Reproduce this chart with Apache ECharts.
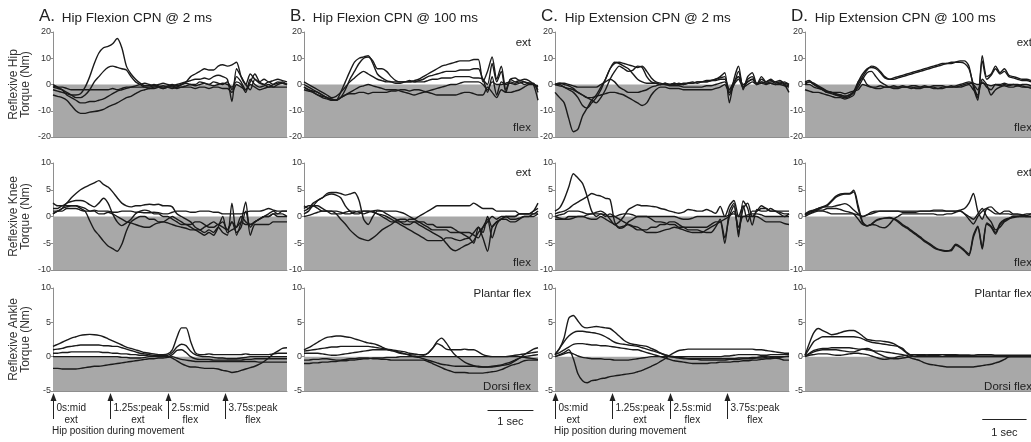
<!DOCTYPE html>
<html><head><meta charset="utf-8">
<script src="https://cdn.jsdelivr.net/npm/echarts@6/dist/echarts.min.js"></script>
<style>html,body{margin:0;padding:0;background:#fff}#c{width:1031px;height:442px}</style>
</head><body><div id="c"></div>
<script>
// ---------- DATA ----------
const timeSec = [0,0.1,0.2,0.3,0.4,0.5,0.6,0.7,0.8,0.9,1,1.1,1.2,1.3,1.4,1.5,1.6,1.7,1.8,1.9,2,2.1,2.2,2.3,2.4,2.5,2.6,2.7,2.8,2.9,3,3.1,3.2,3.3,3.4,3.5,3.6,3.7,3.8,3.9,4,4.1,4.2,4.3,4.4,4.5,4.6,4.7,4.8,4.9,5,5.1];

const panelLetters = ['A.', 'B.', 'C.', 'D.'];
const panelTitles = ['Hip Flexion CPN @ 2 ms', 'Hip Flexion CPN @ 100 ms', 'Hip Extension CPN @ 2 ms', 'Hip Extension CPN @ 100 ms'];
const rowNames = ['Reflexive Hip\nTorque (Nm)', 'Reflexive Knee\nTorque (Nm)', 'Reflexive Ankle\nTorque (Nm)'];
const yMins = [-20, -10, -5];
const yMaxs = [20, 10, 10];
const yIntervals = [10, 5, 5];
const dirLabels = [['ext', 'flex'], ['ext', 'flex'], ['Plantar flex', 'Dorsi flex']];
const arrowTimes = [0, 1.25, 2.5, 3.75];
const arrowLine1 = ['0s:mid', '1.25s:peak', '2.5s:mid', '3.75s:peak'];
const arrowLine2 = ['ext', 'ext', 'flex', 'flex'];
const arrowCaption = 'Hip position during movement';
const scaleBarStart = 4;
const scaleBarLength = 1;
const scaleBarLabel = '1 sec';
const xMax = 5.1;

// Hip torque, panel A
const hipA1 = [-2,-2.5,-3,-3.5,-4,-4,-3.5,-1,3,8,12,14,14.5,15.5,17.5,14,7,4,2,0.5,-0.5,-0.5,0,-0.5,-1,-0.5,0,-0.5,0,1,3,4,5,6,5.5,5.5,7,7.5,7,7.5,8.5,3,0,4,2,1,2,1,1.5,2,1.5,1];
const hipA2 = [-1,-1.5,-2,-3,-4,-5,-5,-4,-2,1,3,5,6.5,7,6.5,6,5.5,3,1,0,-1,-1,-0.5,-1,-1.5,-1,-0.5,0,0.5,1,1.5,2,2,2.5,2,3,3.5,3,2,-6.5,6,3,0,-2,2,0.5,0,1,0,0.5,1,0];
const hipA3 = [0,-1,-2,-4,-5,-6,-7,-7,-6.5,-6.5,-6,-5.5,-4.5,-3.5,-2.5,-2,-1.5,-1,-0.5,0,0.5,0,-0.5,0,0.5,0,-0.5,-1,-1,-0.5,0,0,1,0.5,0,1,0.5,0,1,-2,3,1,-2,1,4,1,0,-1,0,1,0.5,0];
const hipA4 = [-4,-4.5,-5,-6,-8,-10,-11,-11,-10.5,-10.3,-10,-9.5,-8.5,-7.8,-7,-6,-5,-4.5,-3.5,-2.5,-2,-1.5,-1.5,-1,-0.5,-1,-1.5,-1,0,0.5,0,-0.5,0,0.5,0,-0.5,0,0.5,0,-1,1,0,-3,2,0,-1,-0.5,0,-1,0,0.5,0];
const hipA5 = [-0.5,-1,-1,-1.5,-2,-2,-2,-2,-2,-2,-2,-2,-2,-1.5,-2,-1.5,-1,-1,-1,-1,-1,-1.5,-1,-1,-1.5,-1,-1,-1.5,-1,-1,-1,-1.5,-1,-1,-1.5,-1,-1,-1.5,-1.5,-3,0,-1,-2,0,-1,-2,-1.5,-1,-1,-1,-1,-1];
// Hip torque, panel B
const hipB1 = [0,-1,-2,-3,-4,-5,-5.5,-6,-3,1,5,8.5,10,10.5,11,8,4,2.5,1.5,1,0.5,0.5,1,1,1.5,2,3,4,5,6,7,7.5,8,8.5,9,9,9,9.5,9.5,1,5,10.5,2,7,-2,2,2.5,1.5,2,1.5,0,-6];
const hipB2 = [-1,-2,-2.5,-3,-4,-5,-5.5,-6,-5,-2,2,5,8,10,10.5,9,6,6,5,3,1.5,1,1,1,1,1.5,2,3,3.5,4,4.5,5,5,5,5.5,5.5,5.5,6,6,2,0,8,1,5,-3,2,1,1.5,1,0.5,0.5,-3];
const hipB3 = [1,0,-1,-2,-3,-4,-5,-4.5,-3,-1,1,2.5,4,5,4,3,2,1.5,1,1,1,1,1,1.5,1,1,1,1.5,2,2,2.5,2.5,2.5,3,3,3,3,2.5,2.5,2,-3,3,-4,1,0,0.5,0,0.5,1,0.5,0,-1];
const hipB4 = [-1,-2,-3,-4,-4.5,-5,-6,-6,-5,-4,-3.5,-3.5,-3,-3,-3.5,-3,-3,-3,-3,-2.5,-2.5,-2,-2,-2.5,-2,-2,-2.5,-3,-3.5,-4,-4,-4,-4,-4,-3.5,-3,-3,-3.5,-4,-4,-1,-3,-5,-2,-3,-3,-2.5,-2,-1,0,0,-2];
const hipB5 = [-2,-2.5,-3,-4,-5,-5.5,-6,-6,-5,-4,-3,-2,-1,-0.5,0,-0.5,-1,-1.5,-2,-2,-2,-2.5,-3,-3.5,-4,-3.5,-3,-2.5,-2,-1.5,-1,-0.5,0,0,0.5,1,1,1,1,0,-2,1,0,0,0.5,1,0.5,1,0,0.5,0,-0.5];
// Hip torque, panel C
const hipC1 = [-3,-5,-7,-13,-18,-17,-12,-9,-6,-4,-1,2,6,8.5,8,7,6,4,2,1,0.5,0.5,0.5,0,0.5,0,0.5,0,0.5,0.5,0.5,1,1,1.5,1.5,2,3,4.5,-7,2,7,-2,3,4.5,0,3,1,2,1,1.5,0,-3];
const hipC2 = [0,-0.5,-1,-2,-3,-5,-8,-9,-7,-5,-2,2,6,8,8.5,8,7.5,7,6.5,7,5,2.5,1,0.5,0,0,0.5,0,0,0.5,1,0.5,1,1,1.5,2,2.5,3,-4,0,5,-1,2,3,0,2,1,1.5,0.5,1,0.5,0];
const hipC3 = [0,0,-1,-1.5,-2,-3,-4,-5,-6,-7,-5,-2,2,5,7,6,5,5.5,7,6.5,3,1,0.5,0,0.5,0,0,0.5,0,0.5,0.5,1,1,1,1.5,1.5,2,2,-2,1,3,0,1,2,0.5,1,0.5,1,1,0.5,1,0];
const hipC4 = [0,0.5,0,-0.5,-1.5,-3,-4,-5,-5,-4.5,-4,-3.5,-3,-3,-3.5,-4,-5,-6,-7,-8,-7,-4,-2,-1,-1,-1.5,-1.5,-1.5,-2,-2,-2,-2,-2,-2,-2,-1.5,-1,0,-3,0,2,-1,0,1,0,0.5,0,0.5,0,0,-0.5,-1];
const hipC5 = [0,0.5,0.5,0,-0.5,-1,-1,-1,-1,-1,0,1,2,1,-1,-2,-3,-3,-3,-2.5,-2,-1,-0.5,0,0,-0.5,-0.5,-0.5,-1,-1,-1,-1,-1,-0.5,-0.5,0,0.5,1,-2,1,3,-1,1,2,0,1,0.5,0.5,0,0.5,0,-0.5];
// Hip torque, panel D
const hipD1 = [0,1,0,-1,-2,-3,-3,-4,-4.5,-5,-4.5,-3,0,3,5.5,7,6.5,5,3,2,2,2.5,3,3.5,4,4.5,5,5.5,6,6.5,7,7.5,8,8,8.5,9,9,7,-1,-6,11,3,4,7,4.5,6,3.5,3,2.5,2,2,1.5];
const hipD2 = [0.5,1,0.5,-0.5,-1.5,-2.5,-3,-3.5,-4,-4.5,-4,-2.5,1,4,6,6.5,6,4.5,2.5,2,2.5,3,3.5,4,4.5,5,5.5,6,6.5,7,7.5,8,8,8.5,8.5,8.5,8,6,0,-5,9,2,3.5,6,4,5,3,2.5,2,1.5,1.5,1];
const hipD3 = [0,0,-1,-1.5,-2,-3,-3.5,-4,-4,-4.5,-4,-3,-1,2,4.5,5,3,1,0,-1,-1,-1,-0.5,-1,-1.5,-1,-1,-0.5,-1,-1,-1.5,-1,-1,-0.5,-1,-1,-0.5,0,-2,-4,2,0,-4,-2,-1,-0.5,-1,-1,-0.5,-1,-1,-1.5];
const hipD4 = [-2,-2.5,-3,-3,-3.5,-4,-4.5,-5,-5,-5.5,-5,-4,1,2.5,0,-1,-1.5,-1.5,-1,-1,-1.5,-1.5,-1,-1,-1,-1.5,-1.5,-1,-1,-1.5,-1.5,-1.5,-1,-1,-1,-0.5,0,0.5,0,-2,1,-1,-2,0,-0.5,0,-0.5,0,0,-0.5,-1,-1];
const hipD5 = [1,1.5,0,-1,-2,-2.5,-3,-3,-3,-3.5,-3,-2.5,-2,0,-0.5,-1,-1,-0.5,-1,-1,-0.5,-1,-1,-1,-0.5,-0.5,-1,-1,-1,-0.5,-0.5,-0.5,-1,-1,-0.5,0,0.5,1,0.5,0,0.5,0,-0.5,0,0,0.5,0,0,-0.5,0,0,-0.5];

// Knee torque
const kneeA1 = [1,1,1.5,2.5,3.5,4.3,5,5.5,5.9,6.3,6.7,6,5.5,4.6,3.5,2.5,2,1.8,2,2,2.2,2.3,2.2,2.3,2,2,1.8,0.5,0,-0.5,-1,-2,-2.5,-3,-2.5,-3,-2,-3,-3.5,2.5,-3.5,-1,2.7,-3.5,-1.5,-1.5,-1.5,-1.5,-1,-1,-1,-1];
const kneeA2 = [1.5,1.5,2,2,2,2,1.5,1,-0.8,-2.5,-3.5,-4.6,-5.5,-6,-6.5,-5.2,-2.7,-1,-0.4,0,0,-0.5,-0.5,-1,-1,-0.5,0,-0.5,-1,-1.5,-1.5,-1,-1,-1.5,-2,-2,-1.5,-2,-2.5,-1,-3,-2,1,-2,-1,-0.5,0,0,0.5,0.5,1,1];
const kneeA3 = [2.5,2,2,2.5,2.8,3,3,2.8,2.2,1.8,2.5,3.4,2.5,0.5,-1,-1.7,-1.2,-0.5,0.5,1,1.2,1,0.5,0.5,0,0,-0.5,-1,-1.5,-1.5,-2,-2.5,-3,-3.5,-3,-3.5,-2,0,-3,-2.5,-2,0,-1,-1.5,-1,-0.5,0,0,0.5,0,0,0];
const kneeA4 = [0.5,1,1.5,1.8,2,2,1.8,1.5,1,1,0.5,0.5,0.8,0.5,0,-0.5,-1,-1.2,-1.5,-1.8,-2,-2,-1.5,-1.2,-1,-1.2,-1.5,-1.8,-2,-2.2,-2.5,-2.5,-2.5,-2,-1.5,-1,-1.5,-1,-2.5,-1,-2,-1,-1.5,-1.5,-1,-0.5,0,0.5,1,0.5,0.5,0];
const kneeA5 = [0.5,1,1,1.5,1.5,1.5,1.2,1,1,1.2,1,1,1,0.8,0.8,1,1,1,0.8,0.8,0.7,0.7,0.8,0.7,0.5,0.5,0.8,1,1,1,0.8,0.8,1,1,1,0.8,0.8,0.5,0.5,0.5,0.5,0.5,0.8,1,1,1,1.2,1.5,1.2,1,1,1];
const kneeB1 = [1,1.5,2.5,3,3.5,4.3,4.5,4.5,4.3,4,4.2,4.5,3,-0.5,-1.5,0,1,1,1,1,1,0.8,0.5,0,-0.5,-1,-1.5,-2,-2.5,-2.5,-2.5,-2.5,-3,-3,-3,-3.5,-4,-5,-2,-4,-6.5,-2,-1,-0.5,0,0,0,0.5,0.5,0.5,1,2.5];
const kneeB2 = [1.5,2,2,1.5,1,1,1,0.5,-0.5,-1.4,-2.5,-3.3,-4,-4.3,-4.5,-4,-3.3,-2.5,-2,-1.5,-0.8,-0.5,-0.5,-1,-1,-1.5,-2,-2.5,-3,-3.5,-4,-5,-6,-6.4,-6,-5.5,-5.1,-4.5,-3,-2,-1,0,-0.5,0,0,0,0,0.5,0.5,0.5,0.5,1];
const kneeB3 = [2,1.5,2,3,3.5,4,4.2,4,3.5,2,1,0.5,0.5,1,1,1,0.5,0,-0.5,-1,-1,-1,-1,-0.5,-0.5,0,0.5,1,1.5,2,2,2,2,2,2,2,2,2.5,2,1.5,1.5,1.5,1,1,1,1,1,0.5,0.5,0.5,1,1.5];
const kneeB4 = [0.5,1,2,2,1.5,1,0.5,0.5,0.5,0.8,1,1,0.8,0.5,0.8,1,1.2,1,0.5,0,-0.5,-1,-1.5,-1.5,-1,-1,-1,-1.5,-1.5,-2,-2,-2,-2,-2.5,-3,-3,-3,-3.5,-4,-2,-0.5,-4,-1.5,-0.5,-0.5,-1,-1,-0.5,0,0,0.5,0.5];
const kneeB5 = [0,0.2,0.5,0.8,1,1,1,1,0.8,0.5,0.5,0.8,1,1,1,0.8,0.5,0.3,0,-0.5,-1,-1.5,-2,-2.5,-3,-3.5,-4,-4.5,-4.5,-4.5,-4.5,-4,-4,-4.3,-4.5,-4.2,-4,-3,-2,-3,0,-2,-1,-0.5,0,-0.5,-0.5,-0.3,0,0,0,0.5];
const kneeC1 = [1,1.6,3.2,5.5,8,7.2,6.2,3.8,1,0,0.5,0,0.5,0,-0.5,-1,-1.5,-2,-2.5,-2.5,-2.5,-2,-2,-1.5,-1.5,-1,-1,-1.5,-2,-2,-2,-2,-2,-2,-1.5,-1,-1,-5,1,2.5,-3.8,2.9,1.5,-1.6,1.3,1,1,1.5,1,0.5,0,0.5];
const kneeC2 = [0.5,0.8,1,1.5,2.2,2.7,3.2,3.7,4.3,4,3.8,3.4,3.2,-1,-2.2,-2,-1,-0.5,0,0,0,-0.5,-1,-1,-1.2,-1.5,-1.5,-2,-2,-2.5,-2.5,-2.5,-2.8,-3,-3,-2,-0.5,-4,0,2,-3,1.5,2.5,0,1,2,1.5,1,1,1,1,1];
const kneeC3 = [0,0.3,0.5,1,1,1,0.8,0.5,0.5,0.8,1,0.5,-0.5,-1.5,-1,0,1.3,1.8,2.2,2,2,1.9,1.8,1.5,1.3,1,0.8,0.6,0.8,1.3,1.2,1,1,1.3,1,0.6,1.9,0,2,3,0,2,-1,1,1,1.5,1.5,1,1,0.8,0.5,0.5];
const kneeC4 = [0,-0.3,-0.5,0,0,0,0,-0.3,-0.5,-0.5,0,-0.5,-1,-1.5,-2,-1.8,-1.5,-1.8,-2,-2.5,-3,-3,-3,-2.8,-2.5,-2.3,-2,-2.2,-2.5,-2.8,-3,-3,-3,-2.5,-2,-1.5,-1,-0.5,0,1,-2,0,0,0,0,-0.5,-1,-1,-1,-1,-1.3,-1.5];
const kneeC5 = [-0.5,-0.5,-0.5,-0.5,-0.3,0,0,0.3,0.5,0.5,0.5,0.3,0,0,0.3,0.5,0.5,0.3,0,0,0,0,0,0,0,0,0,-0.3,-0.5,-0.5,-0.3,0,0,0,0,0,0,0,0.3,0.5,0,0,0.3,0.5,0.5,0.3,0,0,0,0,0,0];
const kneeD1 = [0.5,1,1.2,1.5,1.8,2.2,3,3.8,4.2,4.3,4.3,4.9,2,-1,-1.7,-1.5,-0.8,-0.5,-0.3,-0.2,-0.4,-0.8,-1.5,-2,-2.6,-3.2,-3.8,-4.5,-5,-5.6,-6.1,-6.3,-6.4,-6.4,-5.4,-5.8,-6.5,-7.3,-3.9,-2,-6.1,-1.4,-2,-3.3,-1.5,-0.8,-0.4,-0.2,0,0,0,0];
const kneeD2 = [0.3,0.8,1,1.3,1.7,2,2.8,3.6,4,4.2,4.2,4.6,1.5,-1.2,-1.8,-1.4,-0.7,-0.4,-0.3,-0.3,-0.5,-1,-1.7,-2.2,-2.8,-3.4,-4,-4.7,-5.2,-5.8,-6.2,-6.4,-6.5,-6.2,-5.2,-5.6,-6.3,-7,-3.5,-1.8,-5.8,-1.2,-1.8,-3,-1.3,-0.6,-0.3,0,0,0.2,0,0];
const kneeD3 = [0.3,0.8,1.2,1.5,1.8,1.8,1.8,2,2.2,2.4,2,1.2,0.5,0,0.3,0.8,1,1,1,1,1,1,1,1,1,1,1,1,1,1,1,1,1,1,1,1.2,1.5,2.5,4.3,1,-0.5,1.5,1.8,1,0.5,1,1,0.5,0.5,0.3,0.2,0.5];
const kneeD4 = [0,0.5,1,1.2,1.2,1.5,1.5,1.5,1.3,1,0.8,0.5,-0.5,-1.5,-1.7,-1.5,-1.6,-2,-2.1,-1.5,-0.5,0,0.5,0.5,0.5,0.5,0.5,0.5,0.5,0.5,0.3,0.3,0.5,0.5,0.8,1,0.5,0,-0.5,0.5,1.5,0,-1,-2.5,-2,-1,-0.5,0,0,0,0,0];
const kneeD5 = [0.5,0.5,0.8,1,1,0.8,0.5,0.5,0.5,0.5,0.5,0.5,0.3,0,0.3,0.5,0.8,1,1,1,1,1,0.8,0.8,0.8,0.8,1,1,1,1.2,1.2,1.2,1,1,1,1.1,0.5,-0.5,-1.4,0,1,1.5,1,0.5,0.5,0.5,0.5,0.3,0.3,0.3,0.5,0.5];

// Ankle torque
const ankleA1 = [1.5,1.8,2.1,2.4,2.7,2.9,3.1,3.2,3.25,3.2,3.1,2.9,2.6,2.3,2,1.7,1.4,1.2,1,0.8,0.6,0.5,0.4,0.3,0.3,0.4,1,2.8,4.2,4.2,2.2,0.6,0.3,0.3,0.4,0.3,0.3,0.3,0.3,0.3,0.3,0.3,0.4,0.3,0.3,0.3,0.3,0.3,0.4,0.5,0.5,0.5];
const ankleA2 = [1,1.1,1.2,1.4,1.5,1.6,1.7,1.7,1.7,1.7,1.7,1.6,1.6,1.5,1.5,1.3,1.1,0.9,0.7,0.5,0.4,0.3,0.2,0.2,0.2,0.2,0.6,1.4,1.8,1.6,0.8,0.3,0.1,0,0,-0.1,-0.2,-0.2,-0.3,-0.3,-0.3,-0.2,-0.1,0,0,0,0,0,0,0,0,0];
const ankleA3 = [0.5,0.5,0.6,0.6,0.7,0.7,0.7,0.7,0.7,0.7,0.7,0.6,0.6,0.5,0.5,0.4,0.4,0.3,0.3,0.2,0.2,0.1,0.1,0,0,0,0.3,0.9,1,0.6,0,-0.3,-0.4,-0.4,-0.4,-0.5,-0.5,-0.5,-0.5,-0.5,-0.5,-0.5,-0.4,-0.4,-0.3,-0.3,-0.3,-0.3,-0.3,-0.3,-0.3,-0.3];
const ankleA4 = [0,0,0,0,0,0,0,0,0,0,0,0,0,0,0,-0.1,-0.1,-0.2,-0.2,-0.2,-0.1,0,0,0,0,0,-0.2,-0.6,-1,-1.3,-1.5,-1.5,-1.6,-1.7,-1.7,-1.7,-1.8,-2,-2.1,-2.3,-2.2,-2,-1.8,-1.6,-1.4,-1.1,-0.7,-0.2,0.4,0.8,1.2,1.3];
const ankleA5 = [-1.7,-1.7,-1.8,-1.8,-1.8,-1.8,-1.7,-1.6,-1.5,-1.4,-1.4,-1.3,-1.2,-1.1,-1,-0.9,-0.8,-0.7,-0.6,-0.5,-0.4,-0.3,-0.3,-0.2,-0.2,-0.1,0,-0.2,-0.4,-0.5,-0.6,-0.7,-0.7,-0.7,-0.7,-0.7,-0.7,-0.7,-0.7,-0.7,-0.7,-0.7,-0.7,-0.7,-0.7,-0.8,-0.8,-0.8,-0.8,-0.8,-0.8,-0.8];
const ankleB1 = [1,1.3,1.7,2.1,2.5,2.8,2.9,3,3,2.9,2.8,2.6,2.4,2.2,2,1.9,1.7,1.4,1.1,0.9,0.7,0.5,0.4,0.3,0.25,0.3,0.3,0.5,1.2,2.2,2.7,2,1,0.2,-0.3,-0.8,-1.1,-1.3,-1.4,-1.5,-1.5,-1.5,-1.4,-1.3,-1.2,-1,-0.6,-0.2,0.3,0.7,1.1,1.3];
const ankleB2 = [0.8,0.9,1,1.1,1.2,1.3,1.4,1.4,1.5,1.5,1.5,1.5,1.5,1.5,1.5,1.4,1.3,1.2,1.1,1,0.9,0.8,0.7,0.5,0.4,0.3,0.2,0.5,1.2,1.9,1.6,1.1,1,1,1,1.1,1,1,0.7,0.3,0.1,0,0,0,0,0.1,0.2,0.3,0.4,0.5,0.6,0.7];
const ankleB3 = [0.5,0.5,0.5,0.5,0.4,0.3,0.2,0.2,0.3,0.4,0.5,0.6,0.7,0.8,0.9,1,1,1,1,0.9,0.8,0.6,0.4,0.2,0,-0.1,-0.3,-0.5,-0.7,-0.9,-1.1,-1.2,-1.3,-1.4,-1.4,-1.4,-1.4,-1.4,-1.5,-1.5,-1.5,-1.4,-1.3,-1.2,-1,-0.8,-0.5,-0.2,0,0.1,0.2,0.3];
const ankleB4 = [-0.5,-0.5,-0.4,-0.4,-0.3,-0.3,-0.4,-0.5,-0.5,-0.4,-0.3,-0.3,-0.2,-0.2,-0.2,-0.3,-0.3,-0.4,-0.4,-0.5,-0.5,-0.5,-0.5,-0.5,-0.5,-0.5,-0.5,-0.7,-1,-1.3,-1.6,-1.9,-2.1,-2.3,-2.3,-2.3,-2.4,-2.4,-2.4,-2.4,-2.3,-2.2,-2.1,-1.9,-1.6,-1.3,-1.1,-0.9,-0.6,-0.5,-0.5,-0.5];
const ankleB5 = [-1,-1,-0.9,-0.9,-0.8,-0.8,-0.7,-0.7,-0.6,-0.6,-0.5,-0.5,-0.4,-0.3,-0.3,-0.2,-0.2,-0.2,-0.1,-0.1,-0.1,0,0,0,0,0,0,0,0,0,0,0,0,0,0,0,0,0,0,0,0,0,0,0,0,0,0,0,-0.1,-0.2,-0.3,-0.4];
const ankleC1 = [0.3,1.2,2.8,5.6,6,5.2,4.4,4.2,4.3,4.4,4.3,4.2,4.1,3.6,3,2.4,2,1.8,1.7,1.6,1.5,1.2,0.9,0.5,0.2,0,-0.1,-0.2,-0.3,-0.3,-0.3,-0.3,-0.3,-0.3,-0.3,-0.3,-0.3,-0.3,-0.3,-0.3,-0.2,-0.2,-0.2,-0.1,-0.1,0,0,-0.1,-0.2,-0.3,-0.5,-0.5];
const ankleC2 = [0.3,1.2,2.2,3,3.5,3.7,3.7,3.6,3.5,3.4,3.2,2.9,2.5,2.1,1.9,1.8,1.7,1.6,1.5,1.3,1.1,0.9,0.7,0.5,0.3,0.1,0,-0.1,-0.2,-0.3,-0.4,-0.4,-0.5,-0.5,-0.5,-0.5,-0.5,-0.5,-0.4,-0.4,-0.4,-0.3,-0.3,-0.3,-0.2,-0.2,-0.1,0,0,0,0,0];
const ankleC3 = [0.3,0.6,1,1.4,1.8,1.9,1.9,1.8,1.7,1.7,1.6,1.6,1.5,1.4,1.3,1.2,1.1,1,1,0.8,0.6,0.4,0.2,0,-0.2,-0.4,-0.6,-0.7,-0.8,-0.9,-1,-1,-1,-1,-0.9,-0.9,-0.8,-0.8,-0.8,-0.7,-0.7,-0.6,-0.6,-0.5,-0.5,-0.4,-0.3,-0.3,-0.2,-0.1,0,0.1];
const ankleC4 = [0,0.3,0.6,1,-0.3,-2.5,-3.5,-3.8,-3.5,-3.4,-3.2,-3.1,-2.9,-2.8,-2.7,-2.6,-2.5,-2.4,-2.2,-2,-1.7,-1.4,-1.1,-0.7,-0.3,0.2,0.6,0.9,1,1.1,1.1,1.1,1.1,1.1,1.1,1.1,1.1,1.1,1.1,1.1,1.1,1.1,1.1,1.1,1,1,0.9,0.8,0.7,0.6,0.5,0.5];
const ankleC5 = [0,0.2,0.4,0.6,0.4,0.1,-0.1,-0.2,-0.3,-0.3,-0.3,-0.4,-0.4,-0.5,-0.5,-0.5,-0.5,-0.4,-0.3,-0.2,-0.1,0,0,0,0,0,0,0,0,0,0,0,0,0,0,0,0,0.1,0.1,0.2,0.3,0.3,0.3,0.3,0.3,0.2,0.2,0.3,0.3,0.3,0.3,0.3];
const ankleD1 = [0.2,2,3.5,4.1,3.8,3.5,3.2,3.3,3.5,3.7,3.8,3.8,3.5,3,2.5,2.4,2.3,2.3,2.2,2.1,1.9,1.5,1,0.5,0.1,0,0,0,0,0,0,0,0,0,0,0,0,0,0,0,0,0,0,0,0,0,0,0,0,0,0,0];
const ankleD2 = [0.2,1.2,2.2,2.6,2.9,2.9,2.9,2.9,2.9,2.9,2.9,2.9,2.8,2.6,2.3,2.1,2,1.9,1.8,1.7,1.6,1.5,1.2,0.6,0.2,0,0,0,0,0,0,0,0,0,0,0,0,0,0,0,0,0,0,0,0,0,0,0,0,0,0,0];
const ankleD3 = [0.1,0.5,0.9,1.1,1.2,1.2,1.3,1.3,1.3,1.3,1.3,1.2,1.1,1.1,1,0.9,0.8,0.8,0.7,0.6,0.5,0.4,0.3,0.1,-0.2,-0.4,-0.6,-0.9,-1.1,-1.2,-1.3,-1.4,-1.5,-1.5,-1.5,-1.5,-1.5,-1.5,-1.5,-1.4,-1.3,-1.2,-1.1,-0.9,-0.7,-0.4,0,0.1,0.1,0.1,0.1,0.1];
const ankleD4 = [0.1,0.4,0.7,0.9,1,1,1,1,0.9,0.8,0.7,0.7,0.9,1.1,1.2,1,0.6,0.3,0,-0.2,-0.3,-0.3,-0.2,-0.1,0,0.1,0.2,0.2,0.3,0.3,0.3,0.3,0.2,0.2,0.2,0.2,0.2,0.2,0.1,0.1,0.1,0.1,0.1,0.1,0.1,0.1,0,0,0,0,0,0];
const ankleD5 = [0,0.2,0.3,0.4,0.4,0.4,0.3,0.2,0.2,0.3,0.4,0.5,0.5,0.4,0.3,0.1,-0.1,-0.3,-0.4,-0.3,-0.2,0,0.1,0.2,0.3,0.3,0.3,0.3,0.2,0.2,0.2,0.3,0.3,0.3,0.3,0.2,0.2,0.2,0.2,0.3,0.3,0.3,0.3,0.2,0.2,0.2,0.2,0.2,0.2,0.2,0.2,0.2];

const panelTraces = [
  [[hipA1,hipA2,hipA3,hipA4,hipA5],[hipB1,hipB2,hipB3,hipB4,hipB5],[hipC1,hipC2,hipC3,hipC4,hipC5],[hipD1,hipD2,hipD3,hipD4,hipD5]],
  [[kneeA1,kneeA2,kneeA3,kneeA4,kneeA5],[kneeB1,kneeB2,kneeB3,kneeB4,kneeB5],[kneeC1,kneeC2,kneeC3,kneeC4,kneeC5],[kneeD1,kneeD2,kneeD3,kneeD4,kneeD5]],
  [[ankleA1,ankleA2,ankleA3,ankleA4,ankleA5],[ankleB1,ankleB2,ankleB3,ankleB4,ankleB5],[ankleC1,ankleC2,ankleC3,ankleC4,ankleC5],[ankleD1,ankleD2,ankleD3,ankleD4,ankleD5]]
];

// ---------- LAYOUT ----------
const colLeft = [53, 304, 555, 805];
const colWidth = 234;
const rowTop = [32, 163, 288];
const rowHeight = [105, 107, 103];
const dirTopOff = [11, 10, 6];
const dirBotOff = [9, 7, 4];
const dirCols = [1, 3];
const arrowCols = [0, 2];
const scaleCols = [1, 3];
const scaleBarDy = [19, 28];
const scaleTextDy = [31, 42];
const FONT = '"Liberation Sans", Arial, sans-serif';
const INK = '#222';

const chart = echarts.init(document.getElementById('c'), null, {renderer: 'canvas'});

const grids = [], xAxes = [], yAxes = [], series = [], titles = [];
for (let r = 0; r < 3; r++) {
  for (let c = 0; c < 4; c++) {
    const gi = r * 4 + c;
    grids.push({left: colLeft[c], top: rowTop[r], width: colWidth, height: rowHeight[r], containLabel: false});
    xAxes.push({type: 'value', gridIndex: gi, min: 0, max: xMax,
      axisLine: {show: true, onZero: false, lineStyle: {color: '#8e8e8e', width: 1}},
      axisTick: {show: false}, axisLabel: {show: false}, splitLine: {show: false}});
    yAxes.push({type: 'value', gridIndex: gi, min: yMins[r], max: yMaxs[r], interval: yIntervals[r],
      axisLine: {show: true, onZero: false, lineStyle: {color: '#8e8e8e', width: 1}},
      axisTick: {show: true, length: 2, lineStyle: {color: '#8e8e8e'}},
      axisLabel: {fontSize: 9, color: '#333', margin: 2, fontFamily: FONT},
      splitLine: {show: false},
      name: c === 0 ? rowNames[r] : '', nameLocation: 'middle', nameGap: 21, nameRotate: 90,
      nameTextStyle: {fontSize: 12, lineHeight: 12, color: '#333', fontFamily: FONT}});
    // gray "flexion" half (below zero)
    series.push({type: 'line', xAxisIndex: gi, yAxisIndex: gi, silent: true, z: 1,
      data: [[0, 0], [xMax, 0]], symbol: 'none',
      lineStyle: {width: 0, opacity: 0},
      areaStyle: {color: '#a8a8a8', opacity: 1, origin: 'start'}});
    panelTraces[r][c].forEach(tr => {
      series.push({type: 'line', xAxisIndex: gi, yAxisIndex: gi, silent: true, z: 3,
        data: timeSec.map((t, i) => [t, tr[i]]),
        symbol: 'none', smooth: 0.25,
        lineStyle: {color: '#1a1a1a', width: 1.4}});
    });
  }
}
for (let c = 0; c < 4; c++) {
  titles.push({left: colLeft[c] - 14, top: 8, padding: 0,
    text: '{l|' + panelLetters[c] + '} {t|' + panelTitles[c] + '}',
    textStyle: {fontSize: 13.5, fontWeight: 'normal', color: INK, fontFamily: FONT,
      rich: {l: {fontSize: 17, color: INK, fontFamily: FONT, padding: [0, 3, 0, 0], verticalAlign: 'bottom'},
             t: {fontSize: 13.5, color: INK, fontFamily: FONT, verticalAlign: 'bottom'}}}});
}

chart.setOption({animation: false, backgroundColor: '#fff', title: titles, grid: grids, xAxis: xAxes, yAxis: yAxes, series: series});

// ---------- ANNOTATIONS ----------
const measureCtx = document.createElement('canvas').getContext('2d');
function textWidth(s, size) { measureCtx.font = size + 'px ' + FONT; return measureCtx.measureText(s).width; }
function txt(x, y, s, size, align) {
  return {type: 'text', x: x, y: y, silent: true, z: 10,
    style: {text: s, font: size + 'px ' + FONT, fill: INK, align: align || 'left', verticalAlign: 'middle'}};
}
const g = [];
dirCols.forEach(c => {
  for (let r = 0; r < 3; r++) {
    const right = colLeft[c] + colWidth - 7;
    g.push(txt(right, rowTop[r] + dirTopOff[r], dirLabels[r][0], 11.5, 'right'));
    g.push(txt(right, rowTop[r] + rowHeight[r] - dirBotOff[r], dirLabels[r][1], 11.5, 'right'));
  }
});
arrowCols.forEach(c => {
  const gi = 8 + c;
  arrowTimes.forEach((t, k) => {
    const p = chart.convertToPixel({gridIndex: gi}, [t, yMins[2]]);
    const x = Math.round(p[0]) + 0.5, yb = p[1];
    g.push({type: 'line', silent: true, z: 10, shape: {x1: x, y1: yb + 6, x2: x, y2: yb + 28}, style: {stroke: INK, lineWidth: 1}});
    g.push({type: 'polygon', silent: true, z: 10, shape: {points: [[x, yb + 2], [x - 3, yb + 10], [x + 3, yb + 10]]}, style: {fill: INK}});
    const w1 = textWidth(arrowLine1[k], 10);
    g.push(txt(x + 3, yb + 17, arrowLine1[k], 10, 'left'));
    g.push(txt(x + 3 + w1 / 2, yb + 29, arrowLine2[k], 10, 'center'));
  });
  const p0 = chart.convertToPixel({gridIndex: gi}, [0, yMins[2]]);
  g.push(txt(p0[0] - 1, p0[1] + 40, arrowCaption, 10, 'left'));
});
scaleCols.forEach((c, j) => {
  const gi = 8 + c;
  const a = chart.convertToPixel({gridIndex: gi}, [scaleBarStart, yMins[2]]);
  const b = chart.convertToPixel({gridIndex: gi}, [scaleBarStart + scaleBarLength, yMins[2]]);
  const y = Math.round(a[1] + scaleBarDy[j]) + 0.5;
  g.push({type: 'line', silent: true, z: 10, shape: {x1: a[0], y1: y, x2: b[0], y2: y}, style: {stroke: INK, lineWidth: 1.2}});
  g.push(txt((a[0] + b[0]) / 2, a[1] + scaleTextDy[j], scaleBarLabel, 11, 'center'));
});
chart.setOption({graphic: g});
</script>
</body></html>
